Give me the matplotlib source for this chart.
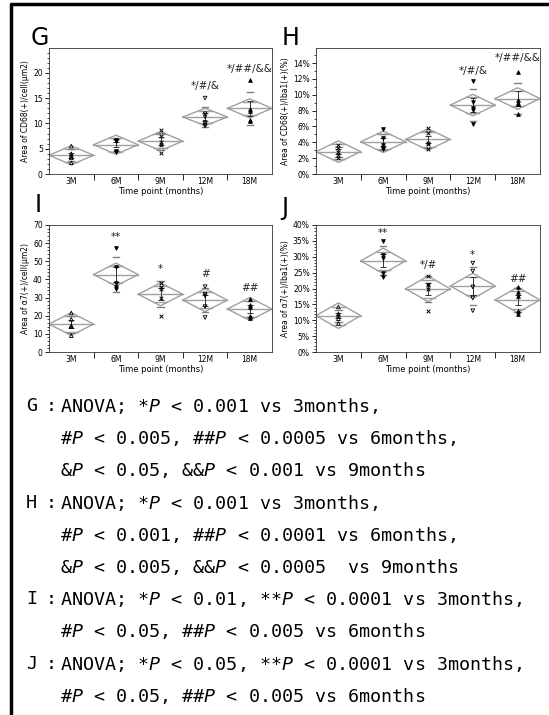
import numpy as np
import matplotlib
matplotlib.use('Agg')
import matplotlib.pyplot as plt
from matplotlib.ticker import FixedLocator, MultipleLocator, NullFormatter, FixedFormatter, PercentFormatter

W, H = 549, 715

groups = ['3M', '6M', '9M', '12M', '18M']

# panel G: Area of CD68(+)/cell (um2)
g_vals = [[5.5, 4.0, 3.6, 3.2, 2.2],
          [6.8, 6.6, 6.5, 4.6, 4.4],
          [8.6, 7.6, 6.3, 5.8, 4.2],
          [15.0, 11.9, 11.3, 10.2, 9.7, 9.5],
          [18.5, 12.8, 12.5, 10.6, 10.5]]
g_sig = ['', '', '', '*/#/&', '*/##/&&']
g_sig_y = [0, 0, 0, 17.3, 20.7]

# panel H: Area of CD68(+)/Iba1(+) (%)
h_vals = [[3.6, 3.3, 2.8, 2.4, 2.0],
          [5.7, 4.5, 3.6, 3.3, 3.2],
          [5.8, 5.2, 3.9, 3.8, 3.1],
          [11.7, 9.1, 8.3, 8.1, 6.3],
          [12.9, 9.3, 9.0, 8.8, 7.6]]
h_sig = ['', '', '', '*/#/&', '*/##/&&']
h_sig_y = [0, 0, 0, 13.0, 14.6]

# panel I: Area of a7(+)/cell (um2)
i_vals = [[21.5, 18.0, 14.5, 14.0, 9.0],
          [57.5, 47.0, 38.0, 36.0, 35.0],
          [38.0, 36.0, 35.0, 30.0, 20.0],
          [36.0, 32.0, 31.0, 25.0, 19.0],
          [29.0, 26.0, 25.0, 20.0, 18.5]]
i_sig = ['', '**', '*', '#', '##']
i_sig_y = [0, 63.2, 45.6, 43.2, 35.5]

# panel J: Area of a7(+)/Iba1(+) (%)
j_vals = [[14.2, 12.0, 11.5, 10.5, 9.0],
          [35.0, 30.5, 29.5, 25.0, 23.5],
          [24.0, 21.5, 21.0, 20.0, 13.0],
          [28.0, 25.5, 20.5, 17.0, 13.0],
          [20.5, 19.0, 17.5, 13.0, 12.0]]
j_sig = ['', '**', '*/#', '*', '##']
j_sig_y = [0, 37.4, 27.4, 30.4, 22.9]

# (label, text) for the note lines below the panels
notes = [
    ('G', 'ANOVA; *$P$ < 0.001 vs 3months,'),
    ('', '#$P$ < 0.005, ##$P$ < 0.0005 vs 6months,'),
    ('', '&$P$ < 0.05, &&$P$ < 0.001 vs 9months'),
    ('H', 'ANOVA; *$P$ < 0.001 vs 3months,'),
    ('', '#$P$ < 0.001, ##$P$ < 0.0001 vs 6months,'),
    ('', '&$P$ < 0.005, &&$P$ < 0.0005  vs 9months'),
    ('I', 'ANOVA; *$P$ < 0.01, **$P$ < 0.0001 vs 3months,'),
    ('', '#$P$ < 0.05, ##$P$ < 0.005 vs 6months'),
    ('J', 'ANOVA; *$P$ < 0.05, **$P$ < 0.0001 vs 3months,'),
    ('', '#$P$ < 0.05, ##$P$ < 0.005 vs 6months'),
]

T975 = {17: 2.110, 18: 2.101, 19: 2.093, 20: 2.086, 21: 2.080, 22: 2.074}

mono = 'DejaVu Sans Mono'
plt.rcParams['mathtext.fontset'] = 'custom'
plt.rcParams['mathtext.it'] = mono + ':italic'
plt.rcParams['mathtext.rm'] = mono

fig = plt.figure(figsize=(W / 100, H / 100), dpi=100)


def px_axes(l, t, r, b):
    return fig.add_axes([l / W, 1 - b / H, (r - l) / W, (b - t) / H])


def diamond_panel(ax, vals, ylim, major, minor, ylabel, sig, sig_y, markers, pct=False):
    dgray = '#a0a0a0'
    n = [len(v) for v in vals]
    means = [np.mean(v) for v in vals]
    sds = [np.std(v, ddof=1) for v in vals]
    dof = sum(n) - len(vals)
    sp = np.sqrt(sum((k - 1) * s ** 2 for k, s in zip(n, sds)) / dof)
    t = T975.get(dof, 2.08)
    for i, v in enumerate(vals):
        m = means[i]
        ci = t * sp / np.sqrt(n[i])
        xs = [i - 0.5, i, i + 0.5, i, i - 0.5]
        ys = [m, m + ci, m, m - ci, m]
        ax.plot(xs, ys, color=dgray, lw=1.0, zorder=2)
        ax.plot([i - 0.5, i + 0.5], [m, m], color=dgray, lw=1.0, zorder=2)
        om = ci / np.sqrt(2)
        hw = 0.5 * (1 - om / ci)
        for s in (1, -1):
            ax.plot([i - hw, i + hw], [m + s * om, m + s * om], color=dgray, lw=1.0, zorder=2)
        # std dev lines
        for s in (1, -1):
            ax.plot([i - 0.07, i + 0.07], [m + s * sds[i], m + s * sds[i]], color='#808080', lw=1.0, zorder=2)
        se = sds[i] / np.sqrt(n[i])
        ax.errorbar([i], [m], yerr=[se], color='#333333', lw=0.7, capsize=2, capthick=0.7, zorder=3)
        mk, filled = markers[i]
        if mk == 'x':
            ax.scatter(np.full(len(v), i), v, marker='x', s=7, color='black', linewidths=0.7, zorder=4)
        else:
            ax.scatter(np.full(len(v), i), v, marker=mk, s=7,
                       facecolors='black' if filled else 'none',
                       edgecolors='black', linewidths=0.6, zorder=4)
        if sig[i]:
            ax.text(i, sig_y[i], sig[i], ha='center', va='center', fontsize=7.5, color='#222222')
    ax.set_xlim(-0.5, 4.5)
    ax.set_ylim(*ylim)
    ax.xaxis.set_major_locator(FixedLocator([0.5, 1.5, 2.5, 3.5]))
    ax.xaxis.set_major_formatter(NullFormatter())
    ax.xaxis.set_minor_locator(FixedLocator(range(len(groups))))
    ax.xaxis.set_minor_formatter(FixedFormatter(groups))
    ax.tick_params(axis='x', which='major', length=4, width=0.6, direction='out')
    ax.tick_params(axis='x', which='minor', length=0, labelsize=5.5, pad=2)
    ax.yaxis.set_major_locator(MultipleLocator(major))
    ax.yaxis.set_minor_locator(MultipleLocator(minor))
    ax.tick_params(axis='y', which='major', length=3, width=0.6, labelsize=5.5, pad=1.5)
    ax.tick_params(axis='y', which='minor', length=1.5, width=0.5)
    if pct:
        ax.yaxis.set_major_formatter(PercentFormatter(decimals=0))
    ax.set_ylabel(ylabel, fontsize=5.5, labelpad=2)
    ax.set_xlabel('Time point (months)', fontsize=6, labelpad=1)
    for sp_ in ax.spines.values():
        sp_.set_linewidth(0.6)
        sp_.set_color('#333333')


mk_g = [('^', False), ('v', True), ('x', False), ('v', False), ('^', True)]
mk_h = [('x', False), ('v', True), ('x', False), ('v', True), ('^', True)]
mk_i = [('^', False), ('v', True), ('x', False), ('v', False), ('^', True)]
mk_j = [('^', False), ('v', True), ('x', False), ('v', False), ('^', True)]

axG = px_axes(49, 48, 272, 174)
diamond_panel(axG, g_vals, (0, 24.9), 5, 1, 'Area of CD68(+)/cell(μm2)', g_sig, g_sig_y, mk_g)
axG.set_yticks([0, 5, 10, 15, 20])

axH = px_axes(316, 48, 540, 174)
diamond_panel(axH, h_vals, (0, 15.9), 2, 1, 'Area of CD68(+)/Iba1(+)(%)', h_sig, h_sig_y, mk_h, pct=True)
axH.set_yticks([0, 2, 4, 6, 8, 10, 12, 14])

axI = px_axes(49, 225, 272, 352)
diamond_panel(axI, i_vals, (0, 70), 10, 2, 'Area of α7(+)/cell(μm2)', i_sig, i_sig_y, mk_i)

axJ = px_axes(316, 225, 540, 352)
diamond_panel(axJ, j_vals, (0, 40), 5, 1, 'Area of α7(+)/Iba1(+)(%)', j_sig, j_sig_y, mk_j, pct=True)

# panel letters
for x, y, s in [(31, 38, 'G'), (282, 38, 'H'), (35, 205, 'I'), (281, 208, 'J')]:
    fig.text(x / W, 1 - y / H, s, fontsize=17, ha='left', va='center', family='DejaVu Sans')

# frame lines (top and left)
fig.add_artist(plt.Line2D([10 / W, 1], [1 - 4 / H, 1 - 4 / H], color='black', lw=2.5,
                          solid_capstyle='butt', transform=fig.transFigure))
fig.add_artist(plt.Line2D([10.5 / W, 10.5 / W], [0, 1 - 3 / H], color='black', lw=2.5,
                          solid_capstyle='butt', transform=fig.transFigure))

for k, (lab, s) in enumerate(notes):
    y = 406 + 32.2 * k
    if lab:
        fig.text(26 / W, 1 - y / H, lab, fontsize=13.2, ha='left', va='center', family=mono)
        fig.text(46 / W, 1 - y / H, ':', fontsize=13.2, ha='left', va='center', family=mono)
    fig.text(60 / W, 1 - y / H, s, fontsize=13.2, ha='left', va='center', family=mono)

fig.savefig('out.png', dpi=100)
